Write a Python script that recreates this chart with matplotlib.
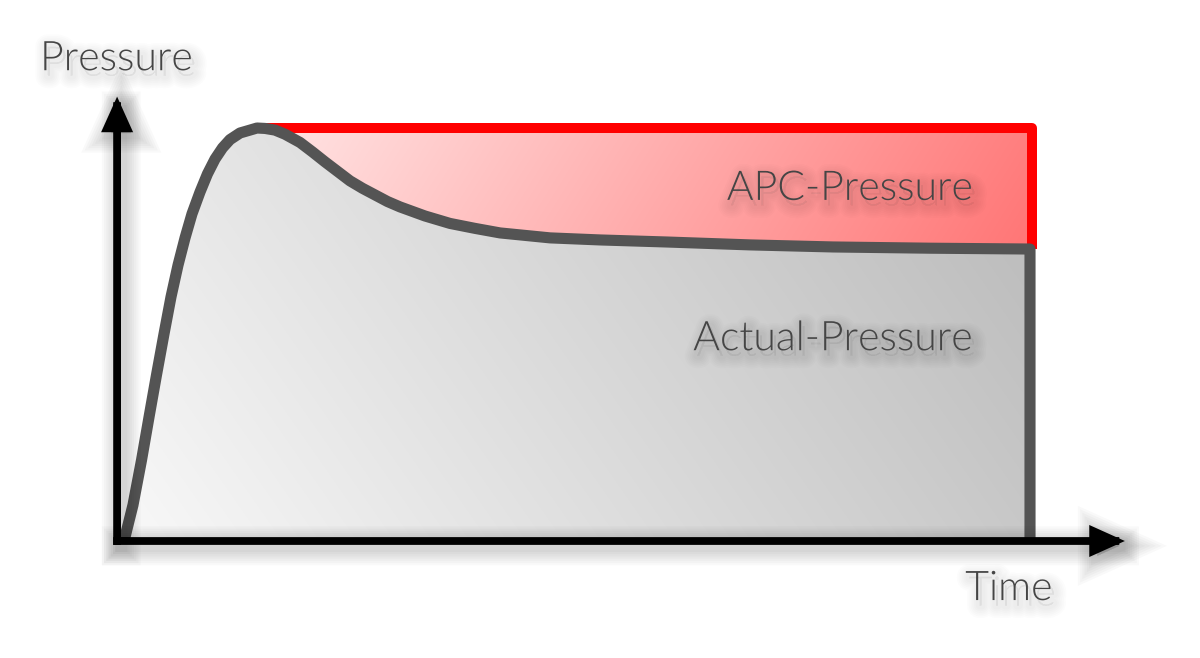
import matplotlib
matplotlib.use("Agg")
import matplotlib.pyplot as plt
import matplotlib.patheffects as pe
import numpy as np

# Pressure curve (time 0..100, peak pressure = 100)
time = [0.66, 1.64, 2.58, 3.40, 4.22, 5.04, 5.81, 6.58, 7.35, 8.11, 8.99, 9.81,
        10.64, 11.46, 12.28, 13.38, 14.47, 15.24, 16.12, 17.21, 18.31, 19.96,
        21.33, 22.70, 24.07, 25.44, 26.81, 28.18, 29.55, 30.92, 33.66, 36.40,
        39.14, 41.89, 44.63, 47.37, 52.85, 60.20, 69.30, 78.40, 89.04, 100]
pressure = [0, 8.7, 19.6, 30.0, 40.2, 50.1, 59.1, 66.8, 73.4, 79.2, 84.5, 88.9,
            92.5, 95.2, 97.2, 98.8, 99.5, 100, 99.9, 99.5, 98.5, 96.5,
            94.2, 91.8, 89.5, 87.2, 85.4, 83.8, 82.2, 80.9, 78.7, 76.9,
            75.7, 74.6, 74.0, 73.4, 72.9, 72.4, 71.7, 71.2, 70.9, 70.7]
apc_level = 100
labels = ["Pressure", "Time", "APC-Pressure", "Actual-Pressure"]

time = np.array(time)
pressure = np.array(pressure)
peak = int(np.argmax(pressure))

TEXT = "#454545"
GRAY = "#545454"


def shadow(lw, dx=3.0, dy=-3.5, steps=7, spread=3.2, alpha=0.022):
    effects = []
    for i in range(steps, 0, -1):
        effects.append(pe.Stroke(offset=(dx, dy), linewidth=lw + i * spread,
                                 foreground="black", alpha=alpha))
    effects.append(pe.Normal())
    return effects


def text_shadow():
    effects = []
    for i in range(6, 0, -1):
        effects.append(pe.Stroke(offset=(2.5, -4.0), linewidth=3 + i * 2.5,
                                 foreground="black", alpha=0.012))
    effects.append(pe.Normal())
    return effects


fig = plt.figure(figsize=(12, 6.58), dpi=100)
ax = fig.add_axes([0, 0, 1, 1])
ax.set_xlim(-12.94, 118.64)
ax.set_ylim(-28.33, 131.0)
ax.axis("off")

# gray gradient under the actual-pressure curve
gx, gy = np.meshgrid(np.linspace(0, 1, 300), np.linspace(0, 1, 200))
gval = 0.975 - 0.19 * gx - 0.06 * gy
gimg = np.dstack([gval, gval, gval])
poly = ax.fill_between(time, pressure, 0, facecolor="none", edgecolor="none")
im = ax.imshow(gimg, extent=[0, 100, 0, 100], origin="lower", aspect="auto",
               interpolation="bilinear", zorder=1)
im.set_clip_path(poly.get_paths()[0], transform=ax.transData)

# red gradient for the APC part
rx, ry = np.meshgrid(np.linspace(0, 1, 300), np.linspace(0, 1, 100))
g = 0.86 - 0.40 * rx + 0.04 * ry
rimg = np.dstack([np.ones_like(g), g, g])
rpoly = ax.fill_between(time[peak:], pressure[peak:], apc_level,
                        facecolor="none", edgecolor="none")
im2 = ax.imshow(rimg, extent=[time[peak], 100, pressure[-1] - 1, apc_level],
                origin="lower", aspect="auto", interpolation="bilinear", zorder=1)
im2.set_clip_path(rpoly.get_paths()[0], transform=ax.transData)

# red APC outline
ax.plot([time[peak], 100.2, 100.2], [apc_level, apc_level, pressure[-1]],
        color="#ff0000", lw=7.2, solid_joinstyle="round", solid_capstyle="butt",
        zorder=2)

# actual-pressure curve with vertical drop
ax.plot(np.append(time, 100), np.append(pressure, 0), color=GRAY, lw=8,
        solid_joinstyle="round", solid_capstyle="butt", zorder=3)

# axes arrows
arrow_kw = dict(arrowstyle="-|>,head_length=0.8,head_width=0.36",
                color="black", lw=5.6, mutation_scale=20, shrinkA=0, shrinkB=0,
                capstyle="projecting", joinstyle="miter")
a1 = ax.annotate("", xy=(110.4, 0), xytext=(-0.1, 0), arrowprops=arrow_kw,
                 zorder=5)
a2 = ax.annotate("", xy=(-0.1, 107.6), xytext=(-0.1, 0), arrowprops=arrow_kw,
                 zorder=5)
a1.arrow_patch.set_path_effects(shadow(5.6))
a2.arrow_patch.set_path_effects(shadow(5.6))

font = dict(family=["Lato", "DejaVu Sans"], fontweight=300, fontsize=29.5,
            color=TEXT, va="baseline", zorder=6)
ax.text(-8.55, 114.0, labels[0], ha="left", path_effects=text_shadow(), **font)
ax.text(92.9, -14.3, labels[1], ha="left", path_effects=text_shadow(), **font)
ax.text(93.75, 82.6, labels[2], ha="right", path_effects=text_shadow(), **font)
ax.text(93.75, 46.2, labels[3], ha="right", path_effects=text_shadow(), **font)

fig.savefig("out.png", dpi=100, facecolor="white")
